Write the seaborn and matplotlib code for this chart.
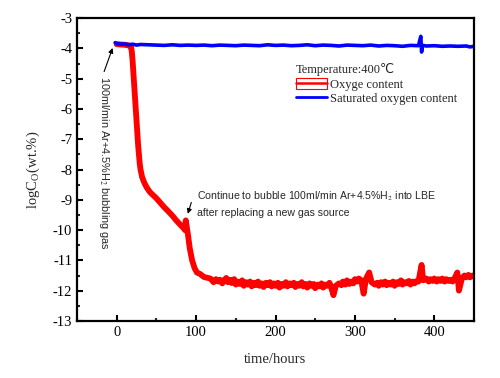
import seaborn as sns
import matplotlib.pyplot as plt
import pandas as pd
from matplotlib.lines import Line2D
from matplotlib.patches import Patch
from matplotlib.legend_handler import HandlerTuple
from matplotlib.ticker import MultipleLocator

# 산소 함량 데이터
# 1) 감소 구간
drop_time = [0, 5, 10, 15, 18, 19, 20, 21, 22, 23,
             24, 25, 26, 27, 28, 29, 30, 32, 35, 38,
             42, 46, 50, 55, 60, 65, 70, 75, 80, 84,
             86, 87, 88, 90, 92, 95, 98, 101, 105, 110]
drop_logc = [-3.86, -3.87, -3.88, -3.9, -3.95, -4.1, -4.4, -4.8, -5.2, -5.6,
             -6.0, -6.4, -6.8, -7.2, -7.5, -7.8, -8.0, -8.25, -8.45, -8.6,
             -8.75, -8.85, -8.95, -9.1, -9.25, -9.38, -9.52, -9.68, -9.82, -9.93,
             -10.0, -9.68, -9.85, -10.2, -10.6, -11.0, -11.25, -11.4, -11.45, -11.55]

# 2) 평형 구간
tail_time = [115, 118, 122, 125, 128, 130, 133, 135, 138, 140,
             143, 145, 148, 150, 153, 155, 158, 160, 163, 165,
             168, 170, 173, 175, 178, 180, 183, 185, 188, 190,
             193, 195, 198, 200, 203, 205, 208, 210, 213, 215,
             218, 220, 223, 225, 228, 230, 233, 235, 238, 240,
             243, 245, 248, 250, 253, 255, 258, 260, 263, 265,
             268, 270, 273, 276, 280, 283, 285, 288, 290, 293,
             295, 298, 300, 303, 305, 308, 311, 314, 318, 321,
             325, 328, 330, 333, 335, 338, 340, 343, 345, 348,
             350, 353, 355, 358, 360, 363, 365, 368, 370, 373,
             375, 378, 380, 384, 386, 390, 393, 395, 398, 400,
             403, 405, 408, 410, 413, 415, 418, 420, 423, 425,
             429, 431, 435, 438, 440, 443, 445, 448, 450]
tail_logc = [-11.58, -11.6, -11.72, -11.62, -11.7, -11.64, -11.76, -11.66, -11.58, -11.72,
             -11.64, -11.75, -11.62, -11.8, -11.7, -11.78, -11.66, -11.84, -11.72, -11.8,
             -11.7, -11.86, -11.74, -11.82, -11.7, -11.84, -11.76, -11.88, -11.74, -11.82,
             -11.72, -11.86, -11.76, -11.84, -11.74, -11.9, -11.78, -11.84, -11.72, -11.86,
             -11.76, -11.82, -11.74, -11.88, -11.78, -11.84, -11.72, -11.86, -11.78, -11.9,
             -11.76, -11.84, -11.78, -11.92, -11.8, -11.86, -11.76, -11.9, -11.8, -11.84,
             -11.74, -11.88, -12.15, -11.84, -11.76, -11.82, -11.7, -11.8, -11.66, -11.78,
             -11.7, -11.76, -11.62, -11.7, -11.6, -11.66, -12.1, -11.6, -11.4, -11.72,
             -11.8, -11.74, -11.84, -11.72, -11.8, -11.7, -11.82, -11.74, -11.8, -11.7,
             -11.84, -11.72, -11.78, -11.66, -11.8, -11.72, -11.76, -11.68, -11.8, -11.7,
             -11.76, -11.68, -11.7, -11.15, -11.66, -11.6, -11.7, -11.62, -11.68, -11.6,
             -11.7, -11.62, -11.68, -11.6, -11.7, -11.62, -11.68, -11.64, -11.7, -11.62,
             -11.4, -12.0, -11.58, -11.5, -11.56, -11.48, -11.56, -11.5, -11.54]

# 포화 산소 함량
blue_time = [-2, 0, 5, 10, 15, 20, 25, 30, 40, 50,
             60, 70, 80, 90, 100, 110, 120, 130, 140, 150,
             160, 170, 180, 190, 200, 210, 220, 230, 240, 250,
             260, 270, 280, 290, 300, 310, 320, 330, 340, 350,
             360, 370, 380, 383, 384, 385, 390, 400, 410, 420,
             430, 440, 445, 450]
blue_logc = [-3.81, -3.84, -3.86, -3.85, -3.88, -3.86, -3.89, -3.87, -3.88, -3.89,
             -3.9, -3.88, -3.9, -3.89, -3.9, -3.89, -3.91, -3.89, -3.9, -3.91,
             -3.89, -3.9, -3.91, -3.88, -3.9, -3.89, -3.91, -3.9, -3.88, -3.91,
             -3.89, -3.9, -3.92, -3.89, -3.9, -3.91, -3.89, -3.92, -3.9, -3.91,
             -3.93, -3.9, -3.91, -3.6, -4.12, -3.9, -3.92, -3.91, -3.93, -3.92,
             -3.93, -3.92, -3.95, -3.93]

red_df = pd.DataFrame({'time': drop_time + tail_time, 'logc': drop_logc + tail_logc})
blue_df = pd.DataFrame({'time': blue_time, 'logc': blue_logc})

sns.set_style('white')
plt.rcParams['font.family'] = ['Liberation Serif', 'DejaVu Sans']
plt.rcParams['mathtext.fontset'] = 'stix'
plt.rcParams['axes.unicode_minus'] = False

fig = plt.figure(figsize=(5, 3.78), dpi=100)
ax = fig.add_axes([0.154, 0.151, 0.794, 0.801])

sns.lineplot(data=red_df, x='time', y='logc', color='#ff0000', lw=4.2, ax=ax, sort=False)
sns.lineplot(data=blue_df, x='time', y='logc', color='#0000ff', lw=2.6, ax=ax, sort=False)

ax.set_xlim(-50, 450)
ax.set_ylim(-13, -3)
ax.xaxis.set_major_locator(MultipleLocator(100))
ax.xaxis.set_minor_locator(MultipleLocator(50))
ax.yaxis.set_major_locator(MultipleLocator(1))
ax.yaxis.set_minor_locator(MultipleLocator(0.5))
ax.tick_params(which='major', direction='in', length=4, width=1.5, labelsize=10.5, colors='black')
ax.tick_params(which='minor', direction='in', length=2.5, width=1.5)
ax.tick_params(axis='both', which='both', left=True, bottom=True)
for s in ax.spines.values():
    s.set_linewidth(1.6)
    s.set_color('black')

ax.set_xlabel('time/hours', fontsize=10.5, labelpad=10)
ax.set_ylabel(r'logC$_\mathregular{O}$(wt.%)', fontsize=10.5, labelpad=8)

# 주석
ax.annotate('', xy=(-4, -3.9), xytext=(-17, -4.85),
            arrowprops=dict(arrowstyle='-|>', color='black', lw=0.8, mutation_scale=7))
ax.text(-16.5, -4.9, r'100ml/min Ar+4.5%H$_2$ bubbling gas', rotation=-90,
        ha='center', va='top', fontsize=7.8, family='Liberation Sans')
ax.annotate('', xy=(88.5, -9.55), xytext=(95, -9.0),
            arrowprops=dict(arrowstyle='-|>', color='black', lw=0.8, mutation_scale=7))
ax.text(101, -8.87, r'Continue to bubble 100ml/min Ar+4.5%H$_2$ into LBE',
        ha='left', va='center', fontsize=7.6, family='Liberation Sans')
ax.text(101, -9.43, 'after replacing a new gas source',
        ha='left', va='center', fontsize=7.6, family='Liberation Sans')

red_handle = (Patch(facecolor='white', edgecolor='#ff0000', lw=0.8),
              Line2D([], [], color='#ff0000', lw=1.8))
blue_handle = Line2D([], [], color='#0000ff', lw=2)
leg = ax.legend([red_handle, blue_handle], ['Oxyge content', 'Saturated oxygen content'],
                handler_map={tuple: HandlerTuple(ndivide=1)}, title='Temperature:400℃',
                frameon=False, fontsize=9, title_fontsize=9, alignment='left',
                loc='upper left', bbox_to_anchor=(0.53, 0.88), handlelength=2.5,
                handleheight=1.05, handletextpad=0.2, labelspacing=0.12, borderpad=0.2)

plt.savefig('out.png', dpi=100)
